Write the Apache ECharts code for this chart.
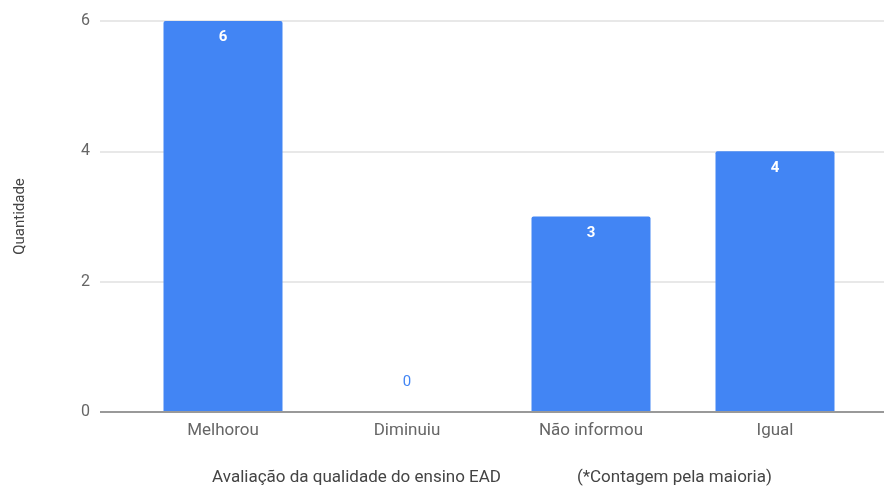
<!DOCTYPE html>
<html><head><meta charset="utf-8">
<script src="https://cdn.jsdelivr.net/npm/echarts@6/dist/echarts.min.js"></script>
<style>html,body{margin:0;padding:0;background:#fff}#c{width:885px;height:488px}</style>
</head><body><div id="c"></div>
<script>
const categories = ['Melhorou', 'Diminuiu', 'Não informou', 'Igual'];
const quantities = [6, 0, 3, 4];
const yTicks = [0, 2, 4, 6];
const xTitle = 'Avaliação da qualidade do ensino EAD                  (*Contagem pela maioria)';
const yTitle = 'Quantidade';

const FONT = 'Roboto';
const chart = echarts.init(document.getElementById('c'));
const yMin = yTicks[0], yMax = yTicks[yTicks.length - 1], yStep = yTicks[1] - yTicks[0];

chart.setOption({
  animation: false,
  textStyle: { fontFamily: FONT },
  grid: [
    { left: 100, right: 1, top: 21, bottom: 76, containLabel: false, outerBoundsMode: 'none' },
    { left: 131, right: 18, top: 21, bottom: 76, containLabel: false, outerBoundsMode: 'none' }
  ],
  xAxis: [
    { gridIndex: 0, type: 'value', min: 0, max: 1, show: true,
      axisLine: { show: false }, axisTick: { show: false }, axisLabel: { show: false }, splitLine: { show: false },
      name: xTitle, nameLocation: 'middle', nameGap: 57,
      nameTextStyle: { color: '#444', fontSize: 17 } },
    { gridIndex: 1, type: 'category', data: categories,
      axisLine: { show: false }, axisTick: { show: false },
      axisLabel: { color: '#666', fontSize: 17, margin: 10 } }
  ],
  yAxis: [
    { gridIndex: 0, type: 'value', min: yMin, max: yMax, interval: yStep,
      axisLine: { show: false }, axisTick: { show: false },
      axisLabel: { color: '#666', fontSize: 16, margin: 10 },
      splitLine: { lineStyle: { color: '#e0e0e0', width: 1.5 } },
      name: yTitle, nameLocation: 'middle', nameGap: 72, nameRotate: 90,
      nameTextStyle: { color: '#444', fontSize: 15 } },
    { gridIndex: 1, type: 'value', min: yMin, max: yMax, interval: yStep, show: false }
  ],
  series: [
    { type: 'line', xAxisIndex: 0, yAxisIndex: 0, data: [[0, yMin], [1, yMin]],
      symbol: 'none', lineStyle: { color: '#999', width: 2 }, z: 5, silent: true },
    { type: 'bar', xAxisIndex: 1, yAxisIndex: 1, barWidth: 119,
      itemStyle: { color: '#4285f4', borderRadius: [2, 2, 0, 0] },
      data: quantities.map(v => v === 0
        ? { value: v, label: { show: true, position: 'top', distance: 22, color: '#4285f4', fontWeight: 'normal', fontSize: 15 } }
        : v),
      label: { show: true, position: 'insideTop', distance: 9, color: '#fff', fontSize: 15, fontWeight: 'bold' } }
  ]
});
</script></body></html>
